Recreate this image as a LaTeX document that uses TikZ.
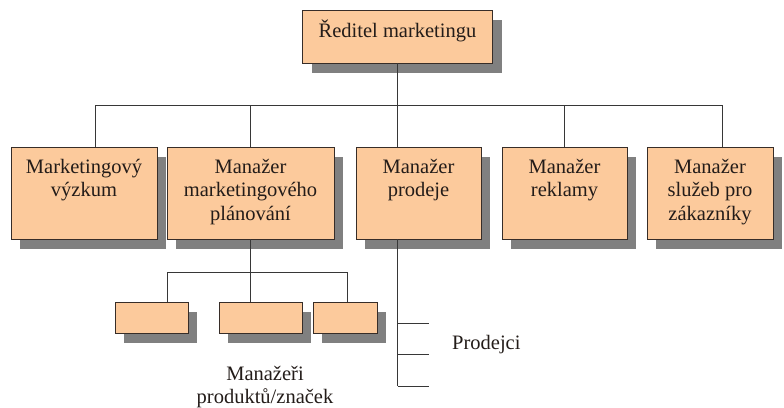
\documentclass[tikz,border=0pt]{standalone}
\usepackage{fontspec}
\setmainfont{Liberation Serif}
\usetikzlibrary{shadows}
\definecolor{peach}{RGB}{252,202,156}
\definecolor{boxline}{RGB}{55,45,40}
\definecolor{wirecol}{RGB}{55,55,55}
\definecolor{shade}{RGB}{128,128,128}
\definecolor{inkcol}{RGB}{35,28,25}
\newcommand\lnstrut{\rule{0pt}{19pt}}
\begin{document}
\begin{tikzpicture}[x=1pt,y=-1pt,
  box/.style={draw=boxline,fill=peach,line width=0.8pt,inner sep=0pt,
    drop shadow={shadow xshift=9pt,shadow yshift=-10pt,fill=shade,opacity=1}},
  row/.style={box,minimum height=92pt},
  small/.style={box,minimum height=31pt},
  lbl/.style={font=\fontsize{20.5}{23.5}\selectfont,align=center,inner sep=0pt,text=inkcol},
  wire/.style={draw=wirecol,line width=1pt}]
\useasboundingbox (0,0) rectangle (784,407);

% head of department
\node[box,minimum width=190pt,minimum height=53pt] (dir) at (397.5,36.5) {};
\node[lbl,anchor=base] (dirT) at (397.5,37) {Ředitel marketingu};

% second level
\node[row,minimum width=146pt] (b1) at (84,193) {};
\node[row,minimum width=167pt] (b2) at (250.5,193) {};
\node[row,minimum width=125pt] (b3) at (418.5,193) {};
\node[row,minimum width=125pt] (b4) at (564.5,193) {};
\node[row,minimum width=126pt] (b5) at (710,193) {};
\node[lbl,anchor=north] (b1T) at (84,154) {\lnstrut Marketingový\\výzkum};
\node[lbl,anchor=north] (b2T) at (250.5,154) {\lnstrut Manažer\\marketingového\\plánování};
\node[lbl,anchor=north] (b3T) at (418.5,154) {\lnstrut Manažer\\prodeje};
\node[lbl,anchor=north] (b4T) at (564.5,154) {\lnstrut Manažer\\reklamy};
\node[lbl,anchor=north] (b5T) at (710,154) {\lnstrut Manažer\\služeb pro\\zákazníky};

% product / brand managers
\node[small,minimum width=73pt] (s1) at (151.5,317.5) {};
\node[small,minimum width=83pt] (s2) at (260.5,317.5) {};
\node[small,minimum width=64pt] (s3) at (345,317.5) {};
\node[lbl,anchor=base] (sT1) at (265,380) {Manažeři};
\node[lbl,anchor=base] (sT2) at (265,403) {produktů/značek};

% sales staff
\node[lbl,anchor=base west] (pT) at (452,349) {Prodejci};

% connectors, top level
\coordinate (h1) at (95,105);
\coordinate (h5) at (722,105);
\draw[wire] (h1) -- (h5);
\draw[wire] (dir.south) -- (dir.south |- b3.north);
\draw[wire] (h1) -- (h1 |- b1.north);
\draw[wire] (b2.north |- h1) -- (b2.north);
\draw[wire] (b4.north |- h1) -- (b4.north);
\draw[wire] (h5) -- (h5 |- b5.north);

% connectors under the planning manager
\coordinate (kL) at (167,272);
\coordinate (kR) at (347,272);
\draw[wire] (b2.south) -- (b2.south |- kL);
\draw[wire] (kL) -- (kR);
\draw[wire] (kL) -- (kL |- s1.north);
\draw[wire] (b2.south |- kL) -- (b2.south |- s2.north);
\draw[wire] (kR) -- (kR |- s3.north);

% connectors under the sales manager
\coordinate (p1) at (429,323);
\coordinate (p2) at (429,354.5);
\coordinate (p3) at (429,386);
\draw[wire] (dir.south |- b3.south) -- (dir.south |- p3);
\draw[wire] (dir.south |- p1) -- (p1);
\draw[wire] (dir.south |- p2) -- (p2);
\draw[wire] (dir.south |- p3) -- (p3);
\end{tikzpicture}
\end{document}
